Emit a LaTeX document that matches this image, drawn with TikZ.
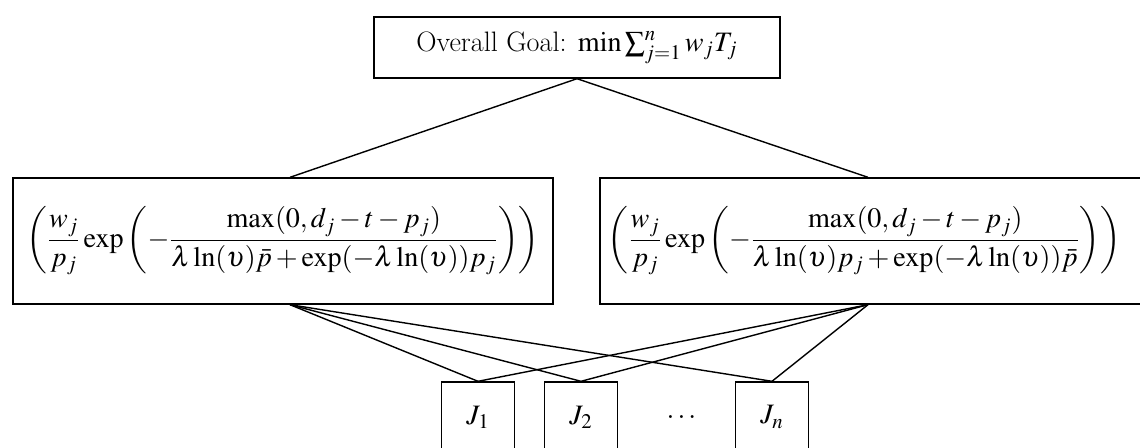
\documentclass[tikz,border=0pt]{standalone}
\usepackage{amsmath,amssymb}
\usepackage{mathptmx}
\usetikzlibrary{positioning,calc}

\tikzset{
  box/.style={draw, line width=0.8pt, inner sep=0pt, align=center},
  jobbox/.style={box, minimum width=1.46cm, minimum height=1.4cm},
}

\begin{document}
\begin{tikzpicture}[x=0.02cm, y=-0.02cm, line width=0.8pt,
    every node/.style={font=\fontsize{16}{19}\selectfont}]
\useasboundingbox (0,0) rectangle (1140,447);
\clip (0,0) rectangle (1140,447);

% goal on top
\node[box, minimum width=8.12cm, minimum height=1.22cm] (goal) at (577,47.5)
    {Overall Goal: $\min\sum_{j=1}^{n} w_jT_j$};

% the two priority rules
\node[box, minimum width=10.8cm, minimum height=2.52cm] (left) at (283,241)
    {$\displaystyle\left(\frac{w_j}{p_j}\exp\left(-\frac{\max(0,d_j-t-p_j)}{\lambda\ln(\upsilon)\bar{p}+\exp(-\lambda\ln(\upsilon))p_j}\right)\right)$};
\node[box, minimum width=10.88cm, minimum height=2.52cm] (right) at (872,241)
    {\hspace*{-0.3cm}$\displaystyle\left(\frac{w_j}{p_j}\exp\left(-\frac{\max(0,d_j-t-p_j)}{\lambda\ln(\upsilon)p_j+\exp(-\lambda\ln(\upsilon))\bar{p}}\right)\right)$};

% jobs
\node[jobbox] (j1) at (478,417) {$J_1$};
\node[jobbox] (j2) at (581,417) {$J_2$};
\node (dots) at (683,417) {$\dots$};
\node[jobbox] (jn) at (772,417) {$J_n$};

\draw (goal.south) -- ([xshift=0.14cm]left.north);
\draw (goal.south) -- ([xshift=-0.08cm]right.north);
\foreach \j in {j1,j2,jn}{
    \draw ([xshift=0.14cm]left.south) -- (\j.north);
    \draw ([xshift=-0.08cm]right.south) -- (\j.north);
}

\end{tikzpicture}
\end{document}
